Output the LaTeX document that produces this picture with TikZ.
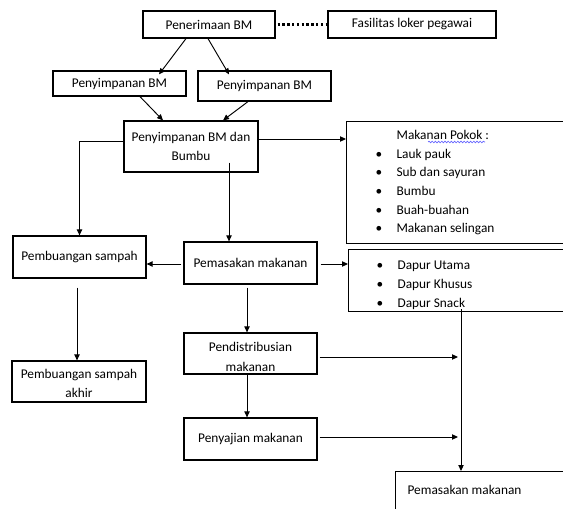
\documentclass[tikz,border=0pt]{standalone}
\usepackage{fontspec}
\setmainfont{Carlito}
\usetikzlibrary{positioning, arrows.meta, calc, decorations.pathmorphing}

\newcommand\butir[1]{\makebox[15.75pt][l]{\textbullet}#1}

\begin{document}
\begin{tikzpicture}[x=0.75pt, y=-0.75pt, line width=0.7pt,
    kotak/.style={draw, line width=0.9pt, inner sep=0pt, align=center, font=\fontsize{10}{14.5}\selectfont},
    daftar/.style={kotak, anchor=north west, align=flush left, text width=160pt},
    panah/.style={-{Triangle[length=4.5pt,width=4pt]}},
    titik/.style={line width=1.8pt, dash pattern=on 1.8pt off 1.8pt}]
    \def\lb{99.75pt}\def\tb{31.5pt}
    \useasboundingbox (0,0) rectangle (563,509);
    \clip (0,0) rectangle (563,509);

    \node[kotak, minimum width=99pt, minimum height=20.25pt] (terima) at (209,24.5) {Penerimaan BM};
    \node[kotak, minimum width=126pt, minimum height=20.25pt] (loker) at (412,24.5) {Fasilitas loker pegawai};
    \node[kotak, minimum width=\lb, minimum height=18.75pt] (simpan1) at (119.5,83.5) {Penyimpanan BM};
    \node[kotak, minimum width=\lb, minimum height=22.5pt] (simpan2) at (264.5,86) {Penyimpanan BM};
    \node[kotak, minimum width=100.5pt, minimum height=38.25pt] (simbumbu) at (191,146.5) {Penyimpanan BM dan\\Bumbu};
    \node[daftar, inner xsep=21.75pt, minimum height=91.5pt, font=\fontsize{10}{14}\selectfont] (pokok) at (346,121)
      {\hspace*{15.75pt}Makanan Pokok :\\\butir{Lauk pauk}\\\butir{Sub dan sayuran}\\\butir{Bumbu}\\\butir{Buah-buahan}\\\butir{Makanan selingan}};
    \node[kotak, minimum width=\lb, minimum height=\tb] (buang) at (79.5,257) {Pembuangan sampah};
    \node[kotak, minimum width=\lb, minimum height=\tb] (masak) at (250.5,263) {Pemasakan makanan};
    \node[daftar, inner xsep=21pt, minimum height=46.5pt, font=\fontsize{10}{14.25}\selectfont] (dapur) at (348,249)
      {\rule{0pt}{13.5pt}\butir{Dapur Utama}\\\butir{Dapur Khusus}\\\butir{Dapur Snack}};
    \node[kotak, minimum width=100.5pt, minimum height=30.75pt] (akhir) at (79,381.5) {\rule{0pt}{10pt}Pembuangan sampah\\akhir};
    \node[kotak, minimum width=\lb, minimum height=30.75pt] (distribusi) at (250.5,353.5) {\rule{0pt}{12pt}Pendistribusian\\makanan};
    \node[kotak, minimum width=\lb, minimum height=\tb] (saji) at (250.5,439) {Penyajian makanan};
    \node[daftar, inner xsep=9pt, inner ysep=10.25pt, text height=7pt, text depth=40pt] (masakB) at (395,471) {Pemasakan makanan};
    \coordinate (jalur) at ($(dapur.south west)+(113,-3)$);

    \draw[blue!60, line width=0.5pt, decorate, decoration={snake, amplitude=0.6pt, segment length=2.4pt}]
      ($(pokok.north west)+(82,21)$) -- ++(57,0);

    \draw[titik, shorten <=1.5pt, shorten >=1pt] (terima.east) -- (loker.west);
    \draw[panah] ($(terima.south)+(-23,0)$) -- ($(simpan1.north)+(39.5,4)$);
    \draw[panah] ($(terima.south)+(-1,0)$) -- ($(simpan2.north)+(-35.5,4)$);
    \draw[panah] ($(simpan1.south)+(20.5,0)$) -- ($(simbumbu.north)+(-28,0)$);
    \draw[panah] ($(simpan2.south)+(-16.5,0)$) -- ($(simbumbu.north)+(32,0)$);
    \draw[panah] ($(simbumbu.west)+(0,-5.5)$) -| (buang.north);
    \draw[panah] ($(simbumbu.south)+(38,-10)$) -- ($(masak.north)+(-21.5,0)$);
    \draw[panah] ($(simbumbu.east)+(0,-7.5)$) -- ($(pokok.west|-simbumbu.east)+(0,-7.5)$);
    \draw[panah] ($(masak.west)+(-2,1)$) -- ($(buang.east|-masak.west)+(0,1)$);
    \draw[panah] ($(masak.east)+(3,1)$) -- ($(dapur.west|-masak.east)+(0,1)$);
    \draw[panah] ($(buang.south)+(-2.5,9)$) -- ($(akhir.north)+(-2,0)$);
    \draw[panah] ($(masak.south)+(-3.5,3)$) -- ($(distribusi.north)+(-3.5,0)$);
    \draw[panah] ($(distribusi.east)+(2,3.5)$) -- ($(jalur|-distribusi.east)+(-3,3.5)$);
    \draw[panah] ($(distribusi.south)+(-3.5,0)$) -- ($(saji.north)+(-3.5,0)$);
    \draw[panah] ($(saji.east)+(2,-2)$) -- ($(jalur|-saji.east)+(-3,-2)$);
    \draw[panah] (jalur) -- (jalur|-masakB.north);
\end{tikzpicture}
\end{document}
